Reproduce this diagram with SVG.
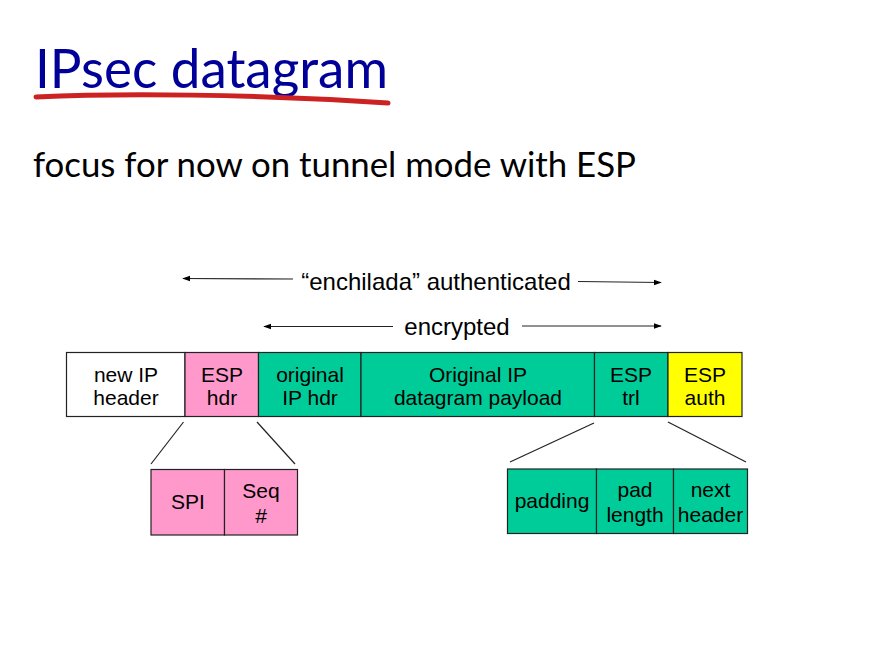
<svg xmlns="http://www.w3.org/2000/svg" width="875" height="668" viewBox="0 0 875 668">
  <style>
    .title { font-family: Lato, "Open Sans", sans-serif; font-size: 55px; fill: #000099; }
    .sub { font-family: Lato, "Open Sans", sans-serif; font-size: 34px; fill: #000; }
    .lbl { font-family: "Liberation Sans", Arial, sans-serif; font-size: 21px; fill: #000; text-anchor: middle; }
    .span { font-family: "Liberation Sans", Arial, sans-serif; font-size: 24px; fill: #000; text-anchor: middle; }
    .box { stroke: #222; stroke-width: 1.2; }
    .white { fill: #fff; }
    .pink { fill: #ff99cc; }
    .green { fill: #00cc99; }
    .yellow { fill: #ffff00; }
    .conn { stroke: #222; stroke-width: 1.2; fill: none; }
  </style>
  <defs>
    <marker id="arr" viewBox="0 0 10 10" refX="9" refY="5" markerWidth="8" markerHeight="8" orient="auto-start-reverse" markerUnits="userSpaceOnUse">
      <path d="M0,1.5 L10,5 L0,8.5 Z" fill="#000"/>
    </marker>
  </defs>
  <rect width="875" height="668" fill="#fff"/>

  <!-- heading -->
  <text class="title" x="35" y="88" textLength="353" lengthAdjust="spacingAndGlyphs">IPsec datagram</text>
  <path d="M36,97 C120,93 250,94 388,103" stroke="#cc2222" stroke-width="5" stroke-linecap="round" fill="none"/>
  <text class="sub" x="33" y="177" textLength="603" lengthAdjust="spacingAndGlyphs">focus for now on tunnel mode with ESP</text>

  <!-- span indicators and zoom lines -->
  <g id="connectors">
    <line class="conn" x1="293" y1="279" x2="183" y2="278.5" marker-end="url(#arr)"/>
    <line class="conn" x1="578" y1="281.5" x2="661" y2="282.5" marker-end="url(#arr)"/>
    <line class="conn" x1="393" y1="326.5" x2="264" y2="326.5" marker-end="url(#arr)"/>
    <line class="conn" x1="522" y1="326" x2="661" y2="326" marker-end="url(#arr)"/>
    <line class="conn" x1="183.5" y1="422" x2="151" y2="464"/>
    <line class="conn" x1="257" y1="422" x2="295" y2="464"/>
    <line class="conn" x1="594" y1="423" x2="510" y2="462"/>
    <line class="conn" x1="668" y1="422" x2="746" y2="462"/>
  </g>
  <text class="span" x="436" y="290">“enchilada” authenticated</text>
  <text class="span" x="457" y="335">encrypted</text>

  <!-- datagram fields -->
  <g id="new-ip-header">
    <rect class="box white" x="66.5" y="352.5" width="118.5" height="64"/>
    <text class="lbl" x="126" y="382">new IP</text>
    <text class="lbl" x="126" y="405">header</text>
  </g>
  <g id="esp-hdr">
    <rect class="box pink" x="185" y="352.5" width="73.5" height="64"/>
    <text class="lbl" x="222" y="382">ESP</text>
    <text class="lbl" x="222" y="405">hdr</text>
  </g>
  <g id="original-ip-hdr">
    <rect class="box green" x="258.5" y="352.5" width="102.5" height="64"/>
    <text class="lbl" x="310" y="382">original</text>
    <text class="lbl" x="310" y="405">IP hdr</text>
  </g>
  <g id="payload">
    <rect class="box green" x="361" y="352.5" width="233.5" height="64"/>
    <text class="lbl" x="478" y="382">Original IP</text>
    <text class="lbl" x="478" y="405">datagram payload</text>
  </g>
  <g id="esp-trl">
    <rect class="box green" x="594.5" y="352.5" width="73.5" height="64"/>
    <text class="lbl" x="631" y="382">ESP</text>
    <text class="lbl" x="631" y="405">trl</text>
  </g>
  <g id="esp-auth">
    <rect class="box yellow" x="668" y="352.5" width="74" height="64"/>
    <text class="lbl" x="705" y="382">ESP</text>
    <text class="lbl" x="705" y="405">auth</text>
  </g>

  <!-- ESP header detail -->
  <g id="spi">
    <rect class="box pink" x="151" y="469.5" width="73.5" height="65.5"/>
    <text class="lbl" x="188" y="509">SPI</text>
  </g>
  <g id="seq">
    <rect class="box pink" x="224.5" y="469.5" width="73" height="65.5"/>
    <text class="lbl" x="261" y="498">Seq</text>
    <text class="lbl" x="261" y="523">#</text>
  </g>

  <!-- ESP trailer detail -->
  <g id="padding">
    <rect class="box green" x="507.5" y="469" width="89" height="64.5"/>
    <text class="lbl" x="552" y="508">padding</text>
  </g>
  <g id="pad-length">
    <rect class="box green" x="596.5" y="469" width="77" height="64.5"/>
    <text class="lbl" x="635" y="497">pad</text>
    <text class="lbl" x="635" y="522">length</text>
  </g>
  <g id="next-header">
    <rect class="box green" x="673.5" y="469" width="74" height="64.5"/>
    <text class="lbl" x="710.5" y="497">next</text>
    <text class="lbl" x="710.5" y="522">header</text>
  </g>
</svg>
